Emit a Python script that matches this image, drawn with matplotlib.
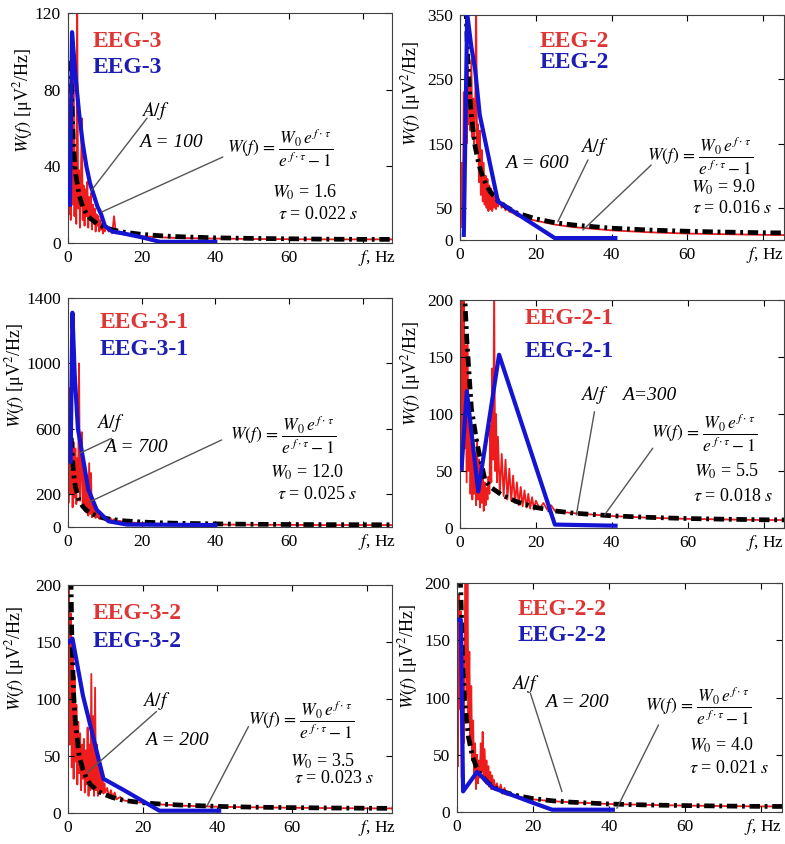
import matplotlib
matplotlib.use("Agg")
import matplotlib.pyplot as plt
import numpy as np

plt.rcParams['font.family'] = ['Liberation Serif', 'DejaVu Serif']
plt.rcParams['mathtext.fontset'] = 'stix'

# frequency grids of the measured spectra (Hz)
f_fine = np.arange(0.25, 10.01, 0.25)
f_tail = [10.5, 11, 11.5, 12, 12.5, 13, 14, 15, 17, 20, 25, 30, 40, 50, 60, 70, 80, 90]
f_red = np.concatenate([f_fine, f_tail])
# EEG-2-1 is noisy up to ~25 Hz, so it has a longer fine part
f_mid4 = np.arange(10.5, 20.01, 0.5)
f_tail4 = [21, 22, 23, 24, 25, 27, 30, 40, 50, 60, 70, 80, 90]
f_red4 = np.concatenate([f_fine, f_mid4, f_tail4])

# ---- EEG-3 ----
red1 = [15, 48, 12, 78, 20, 105, 14, 42, 10, 125, 18, 38, 8, 34, 65, 12, 30, 9, 28, 14,
        32, 8, 24, 12, 26, 7, 20, 10, 18, 6, 15, 9, 14, 6, 12, 7, 10, 5, 9, 6,
        9, 6, 8, 5, 14, 5, 6, 4.5, 4, 3.5, 3, 2.6, 2.3, 2.1, 2.0, 1.9, 1.9, 1.9]
blue1_f = [0.5, 1.1, 2, 3, 4, 5, 6, 7, 8, 9, 10, 12, 15, 20, 25, 40]
blue1_y = [20, 110, 88, 68, 52, 40, 31, 25, 19, 15, 9, 6, 5, 3, 0.6, 0.6]
black1_f = [0.8, 1, 1.5, 2, 3, 4, 5, 6, 8, 10, 12, 15, 20, 25, 30, 40, 50, 60, 70, 80, 90]
black1_y = [95, 76, 50, 37, 25, 19, 15.3, 12.9, 9.9, 8.1, 6.9, 5.7, 4.5, 3.8, 3.3, 2.7, 2.4, 2.2, 2.0, 1.9, 1.9]

# ---- EEG-2 ----
red2 = [20, 120, 40, 230, 60, 240, 150, 270, 180, 250, 170, 280, 160, 220, 150, 200, 380, 140, 180, 90,
        170, 70, 140, 60, 120, 55, 100, 50, 95, 45, 85, 48, 80, 45, 72, 50, 68, 48, 62, 52,
        60, 50, 58, 46, 52, 44, 42, 38, 34, 30, 24, 20, 15, 12, 10, 9, 8, 7.5]
blue2_f = [1.0, 1.9, 3.0, 4.0, 5.2, 10.0, 25.0, 41.0]
blue2_y = [8, 352, 300, 265, 195, 60, 3, 3]
black2_f = [1.6, 2, 2.5, 3, 4, 5, 6, 7, 8, 10, 12, 15, 20, 25, 30, 40, 50, 60, 70, 80, 90]
black2_y = [360, 290, 232, 193, 145, 117, 98, 85, 75, 61, 52, 42, 33, 27, 23.3, 18.4, 15.5, 13.6, 12.3, 11.3, 10.8]

# ---- EEG-3-1 ----
red3 = [150, 850, 200, 650, 120, 520, 180, 480, 140, 420, 220, 1000, 160, 350, 580, 120, 420, 100, 300, 90,
        260, 70, 390, 80, 330, 60, 160, 70, 130, 55, 110, 60, 95, 50, 85, 48, 75, 45, 68, 42,
        60, 40, 55, 35, 48, 32, 38, 30, 27, 24, 20, 18, 15, 14, 13, 12, 12, 12]
blue3_f = [0.7, 1.2, 1.8, 2.7, 4, 5.5, 7.8, 11, 16, 40]
blue3_y = [400, 1310, 940, 600, 430, 230, 105, 35, 15, 12]
black3_f = [0.9, 1, 1.5, 2, 3, 4, 5, 6, 8, 10, 12, 15, 20, 25, 30, 40, 50, 60, 70, 80, 90]
black3_y = [545, 492, 330, 247, 166, 126, 102, 86, 66, 54, 46, 38, 30.5, 25.8, 22.7, 19, 16.8, 15.4, 14.5, 13.9, 13.5]

# ---- EEG-2-1 ----
red4 = [60, 210, 50, 215, 70, 160, 40, 165, 50, 95, 30, 75, 25, 70, 30, 55, 20, 78, 25, 60,
        18, 50, 22, 45, 15, 40, 20, 35, 25, 45, 30, 90, 40, 140, 60, 215, 50, 100, 40, 80,
        30, 65, 28, 60, 25, 52, 24, 46, 22, 40, 20, 36, 19, 33, 18, 30, 17, 27, 16, 24,
        17, 22, 16, 20, 15, 14, 13, 10.5, 9, 8, 7.5, 7, 7]
blue4_f = [0.4, 1.8, 4.8, 10.3, 25, 41]
blue4_y = [52, 120, 32, 152, 3, 2]
black4_f = [1.0, 1.3, 1.8, 3, 4.5, 6.6, 8, 11, 15, 20, 25, 30, 40, 50, 60, 70, 80, 90]
black4_y = [230, 200, 165, 105, 74, 42, 36, 29, 23, 18, 15, 13, 10.7, 9.3, 8.3, 7.7, 7.2, 7.0]

# ---- EEG-3-2 ----
red5 = [210, 60, 175, 40, 150, 30, 120, 45, 95, 25, 80, 35, 70, 20, 60, 30, 65, 18, 55, 25,
        75, 15, 60, 20, 122, 25, 85, 15, 110, 20, 60, 15, 45, 20, 35, 18, 30, 17, 26, 18,
        22, 14, 20, 13, 18, 12, 14, 11, 10, 9, 7.5, 6.5, 5.5, 5, 4.6, 4.3, 4.1, 4]
blue5_f = [0.3, 1.2, 4, 6.5, 9.5, 15, 24.5, 40.5]
blue5_y = [150, 153, 103, 70, 30, 20, 2, 2]
black5_f = [0.8, 1, 1.5, 2, 3, 4, 5, 6, 8, 10, 12, 15, 20, 25, 30, 40, 50, 60, 70, 80, 90]
black5_y = [205, 160, 105, 78, 50, 38, 30, 25, 19, 16, 13.5, 11, 9, 7.8, 7, 5.8, 5.1, 4.7, 4.4, 4.2, 4.0]

# ---- EEG-2-2 ----
red6 = [40, 190, 90, 175, 30, 140, 60, 150, 210, 100, 215, 80, 140, 60, 110, 45, 80, 30, 60, 20,
        50, 25, 45, 30, 60, 35, 70, 28, 55, 30, 45, 25, 40, 22, 35, 20, 32, 22, 28, 20,
        25, 18, 24, 16, 21, 15, 17, 14, 13, 11, 9.5, 8.5, 7, 6.2, 5.6, 5.2, 4.9, 4.8]
blue6_f = [0.6, 1.0, 1.6, 5.3, 9.5, 20, 25, 41]
blue6_y = [168, 168, 18, 35, 21, 8, 2, 2]
black6_f = [0.8, 1, 1.5, 2, 3, 4, 5, 6, 8, 10, 12, 15, 20, 25, 30, 40, 50, 60, 70, 80, 90]
black6_y = [205, 194, 129, 97, 65.5, 49.5, 40, 33.8, 25.9, 21, 17.9, 14.8, 11.7, 9.8, 8.6, 7.0, 6.15, 5.6, 5.2, 4.9, 4.8]

names = ["EEG-3", "EEG-2", "EEG-3-1", "EEG-2-1", "EEG-3-2", "EEG-2-2"]
A_text = ["A = 100", "A = 600", "A = 700", "A=300", "A = 200", "A = 200"]
W0_text = ["1.6", "9.0", "12.0", "5.5", "3.5", "4.0"]
tau_text = ["0.022", "0.016", "0.025", "0.018", "0.023", "0.021"]
ymax = [120, 350, 1400, 200, 200, 200]
yticks = [[0, 40, 80, 120], [0, 50, 150, 250, 350], [0, 200, 600, 1000, 1400],
          [0, 50, 100, 150, 200], [0, 50, 100, 150, 200], [0, 50, 100, 150, 200]]
xmax = [88, 85.5, 88, 85.4, 86.8, 85.5]

freds = [f_red, f_red, f_red, f_red4, f_red, f_red]
reds = [red1, red2, red3, red4, red5, red6]
blues = [(blue1_f, blue1_y), (blue2_f, blue2_y), (blue3_f, blue3_y),
         (blue4_f, blue4_y), (blue5_f, blue5_y), (blue6_f, blue6_y)]
blacks = [(black1_f, black1_y), (black2_f, black2_y), (black3_f, black3_y),
          (black4_f, black4_y), (black5_f, black5_y), (black6_f, black6_y)]

# axes boxes in pixels: left, top, right, bottom
boxes = [(68, 13, 392, 243), (460, 15, 784, 240),
         (68, 298, 392, 527), (460, 300, 784, 528),
         (68, 585, 392, 813), (457, 583, 782, 812)]

# layout of the texts in axes fraction
lab_pos = [(0.077, 0.878, 0.765), (0.246, 0.884, 0.791), (0.098, 0.891, 0.773),
           (0.2, 0.92, 0.776), (0.077, 0.873, 0.754), (0.185, 0.886, 0.769)]
af_pos = [(0.268, 0.574), (0.415, 0.413), (0.132, 0.454), (0.413, 0.583), (0.273, 0.491), (0.21, 0.559)]
a_pos = [(0.319, 0.435), (0.237, 0.342), (0.21, 0.347), (0.585, 0.583), (0.335, 0.316), (0.369, 0.48)]
form_pos = [(0.49, 0.413), (0.578, 0.37), (0.5, 0.402), (0.59, 0.415), (0.557, 0.408), (0.579, 0.46)]
w0_pos = [(0.63, 0.222), (0.714, 0.235), (0.624, 0.241), (0.723, 0.247), (0.685, 0.225), (0.713, 0.293)]
tau_pos = [(0.648, 0.126), (0.717, 0.14), (0.644, 0.14), (0.72, 0.137), (0.696, 0.152), (0.713, 0.191)]
line_af = [((0.244, 0.543), (0.073, 0.23)), ((0.395, 0.356), (0.302, 0.081)),
           ((0.134, 0.387), (0.036, 0.322)), ((0.415, 0.51), (0.359, 0.057)),
           ((0.273, 0.445), (0.057, 0.174)), ((0.226, 0.518), (0.323, 0.089))]
line_w = [((0.478, 0.374), (0.104, 0.135)), ((0.59, 0.333), (0.379, 0.044)),
          ((0.474, 0.38), (0.067, 0.11)), ((0.595, 0.35), (0.446, 0.057)),
          ((0.557, 0.379), (0.428, 0.028)), ((0.62, 0.38), (0.492, 0.016))]
ylab_pos = [(-0.103, 0.62), (-0.114, 0.65), (-0.127, 0.66), (-0.114, 0.68), (-0.127, 0.68), (-0.114, 0.68)]
hz_x = [1.012, 0.998, 1.012, 0.998, 1.012, 1.0]

W, H = 785, 844
fig = plt.figure(figsize=(W / 100, H / 100), dpi=100)

for i in range(6):
    l, t, r, b = boxes[i]
    ax = fig.add_axes([l / W, 1 - b / H, (r - l) / W, (b - t) / H])
    ax.plot(freds[i], reds[i], color='#ee1c1c', lw=1.3, zorder=1)
    ax.plot(blacks[i][0], blacks[i][1], color='black', lw=3.4,
            dashes=(2.2, 1.0, 0.6, 1.0), zorder=2)
    ax.plot(blues[i][0], blues[i][1], color='#1414d2', lw=3.0, zorder=3)

    ax.set_xlim(0, xmax[i])
    ax.set_ylim(0, ymax[i])
    ax.set_xticks([0, 20, 40, 60, 80])
    ax.set_xticklabels(['0', '20', '40', '60', ''])
    ax.set_yticks(yticks[i])
    ax.tick_params(direction='in', top=True, right=True, labelsize=12.5, length=4, pad=5)
    for s in ax.spines.values():
        s.set_color('#404040')
    ax.text(hz_x[i], -0.022, '$f$, Hz', transform=ax.transAxes, ha='right', va='top', fontsize=12.5)
    ax.set_ylabel(r'$W(f)$ [μV$^2$/Hz]', fontsize=13)
    ax.yaxis.set_label_coords(*ylab_pos[i])

    lx, ly1, ly2 = lab_pos[i]
    ax.text(lx, ly1, names[i], transform=ax.transAxes, color='#e03535', fontsize=17,
            fontweight='bold', ha='left', va='center')
    ax.text(lx, ly2, names[i], transform=ax.transAxes, color='#1d1db4', fontsize=17,
            fontweight='bold', ha='left', va='center')

    ax.text(*af_pos[i], '$A/f$', transform=ax.transAxes, fontsize=14, ha='center', va='center')
    ax.text(*a_pos[i], A_text[i], transform=ax.transAxes, fontsize=14, style='italic',
            ha='center', va='center')
    ax.text(*form_pos[i], r'$W(f)\,=\,\dfrac{W_0\,e^{\,f\cdot\tau}}{e^{\,f\cdot\tau}-1}$',
            transform=ax.transAxes, fontsize=12.5, ha='left', va='center')
    ax.text(*w0_pos[i], '$W_0$ = ' + W0_text[i], transform=ax.transAxes, fontsize=13,
            ha='left', va='center')
    ax.text(*tau_pos[i], r'$\tau$ = ' + tau_text[i] + ' $s$', transform=ax.transAxes,
            fontsize=13, ha='left', va='center')

    for (p0, p1) in (line_af[i], line_w[i]):
        ax.annotate('', xy=p1, xytext=p0, xycoords='axes fraction', textcoords='axes fraction',
                    arrowprops=dict(arrowstyle='-', color='#555555', lw=1.0,
                                    shrinkA=0, shrinkB=0))

fig.savefig('out.png', dpi=100)
